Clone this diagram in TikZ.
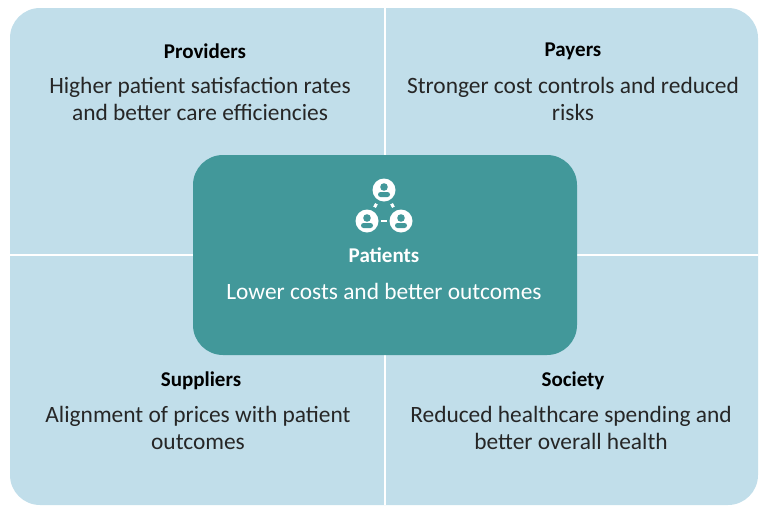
\documentclass[tikz,border=0pt]{standalone}
\usepackage{fontspec}
\usetikzlibrary{calc}
\setmainfont{Carlito}
\definecolor{lb}{HTML}{C1DEEA}
\definecolor{teal}{HTML}{42989A}
\tikzset{
  ttl/.style={font=\fontsize{21}{25}\selectfont\bfseries, text=black},
  body/.style={font=\fontsize{23.4}{27}\selectfont, text=black!85, align=center},
  pc/.style={circle, fill=white, minimum size=23pt, inner sep=0pt}
}
\begin{document}
\begin{tikzpicture}[x=1pt,y=-1pt]
\useasboundingbox (0,0) rectangle (768,517);
\fill[lb, rounded corners=30pt] (10,8) rectangle (758,505);
\draw[white, line width=1.2pt] (385,8) -- (385,505);
\draw[white, line width=1.2pt] (10,255) -- (758,255);
\node[ttl] (t1) at (205,51) {Providers};
\node[body] (b1) at (200,99) {Higher patient satisfaction rates\\and better care efficiencies};
\node[ttl] (t2) at (573,51) {Payers};
\node[body] (b2) at (573,99) {Stronger cost controls and reduced\\risks};
\node[ttl] (t3) at (201,381) {Suppliers};
\node[body] (b3) at (198,428) {Alignment of prices with patient\\outcomes};
\node[ttl] (t4) at (573,381) {Society};
\node[body] (b4) at (571,428) {Reduced healthcare spending and\\better overall health};
\fill[teal, rounded corners=30pt] (193,155) rectangle (577,355);
\node[pc] (p1) at (384,190) {};
\node[pc] (p2) at (367,221) {};
\node[pc] (p3) at (401,221) {};
\foreach \p in {p1,p2,p3}{
  \fill[teal] ([yshift=3pt]\p.center) circle (3.8pt);
  \fill[teal, rounded corners=2.5pt] ([xshift=-6pt,yshift=-7pt]\p.center) -- ([xshift=-6pt,yshift=-2pt]\p.center) -- ([xshift=6pt,yshift=-2pt]\p.center) -- ([xshift=6pt,yshift=-7pt]\p.center) -- cycle;
}
\draw[white, line width=3pt, shorten <=4pt, shorten >=4pt, dash pattern=on 4pt off 4pt] (p1) -- (p2);
\draw[white, line width=3pt, shorten <=4pt, shorten >=4pt, dash pattern=on 4pt off 4pt] (p1) -- (p3);
\draw[white, line width=2.5pt] ([xshift=-3pt]$(p2)!0.5!(p3)$) -- ([xshift=3pt]$(p2)!0.5!(p3)$);
\node[ttl, text=white] (t5) at (384,255) {Patients};
\node[body, text=white] (b5) at (384,291) {Lower costs and better outcomes};
\end{tikzpicture}
\end{document}
